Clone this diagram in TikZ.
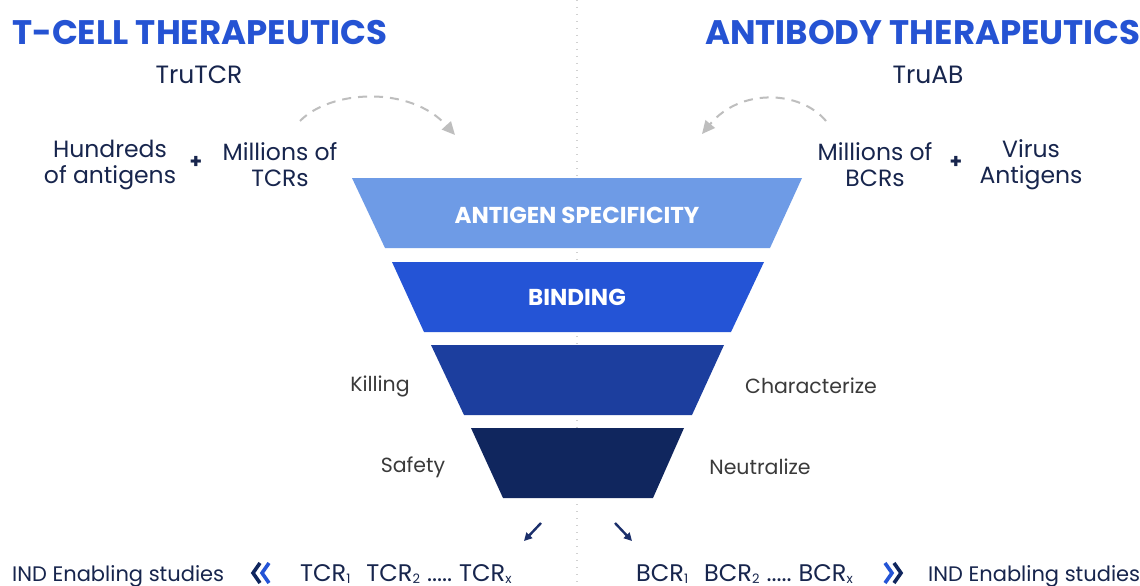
\documentclass[tikz,border=0pt]{standalone}
\usepackage{fontspec}
\setmainfont{Poppins}
\usetikzlibrary{arrows.meta}
\definecolor{titleblue}{HTML}{2553D3}
\definecolor{navytext}{HTML}{17254D}
\definecolor{greytext}{HTML}{3A3A3A}
\definecolor{layerA}{HTML}{6E9BE6}
\definecolor{layerB}{HTML}{2454D6}
\definecolor{layerC}{HTML}{1C3E9E}
\definecolor{layerD}{HTML}{10265E}
\definecolor{arcgrey}{HTML}{BEBEBE}
\definecolor{arrownavy}{HTML}{1B2F6B}
\newcommand{\fs}[1]{\fontsize{#1}{#1}\selectfont}
\newcommand{\sbs}[1]{\raisebox{-2.5pt}{\fs{13}#1}}
\newcommand{\seq}[1]{#1\sbs{1}\hspace{16pt}#1\sbs{2}\hspace{7pt}.....\hspace{7pt}#1\sbs{x}}
\tikzset{
  title/.style={font=\fs{34}\bfseries, text=titleblue, inner sep=0pt},
  brand/.style={font=\fs{25}, text=navytext, inner sep=0pt},
  source/.style={font=\fontsize{23.5}{26}\selectfont, text=navytext, align=center, inner sep=0pt},
  plus/.style={font=\fs{20}\bfseries, text=navytext, inner sep=0pt},
  layertext/.style={font=\fs{23}\bfseries, text=white, inner sep=0pt},
  sidelabel/.style={font=\fs{20.5}, text=greytext, inner sep=0pt},
  bottomtext/.style={font=\fs{21}, text=navytext, inner sep=0pt, anchor=base west},
  seqtext/.style={font=\fs{24}, text=navytext, inner sep=0pt, anchor=base west},
  dasharc/.style={arcgrey, line width=2pt, dash pattern=on 9pt off 7pt,
    -{Triangle[length=13pt,width=12pt]}},
  smallarrow/.style={arrownavy, line width=2.4pt, -{Triangle[length=8pt,width=8pt]}},
  chev/.style={line width=3.6pt, miter limit=10}
}
\begin{document}
\begin{tikzpicture}[x=1pt,y=-1pt]
\useasboundingbox[fill=white] (0,0) rectangle (1140,586);

% faint dotted centre divider
\draw[black!18, line width=1.3pt, dash pattern=on 1.3pt off 5.7pt] (577,0) -- (577,586);

% headings
\node[title, anchor=west] (tcell) at (12,33) {T-CELL THERAPEUTICS};
\node[title, anchor=east] (antibody) at (1141,33) {ANTIBODY THERAPEUTICS};
\node[brand] (trutcr) at (199,75) {TruTCR};
\node[brand] (truab) at (928,75) {TruAB};

% inputs
\node[source] (hundreds) at (110,165) {Hundreds\\of antigens};
\node[plus] (plusL) at (196,162) {+};
\node[source] (milltcr) at (280,165) {Millions of\\TCRs};
\node[source] (millbcr) at (875,165) {Millions of\\BCRs};
\node[plus] (plusR) at (956,162) {+};
\node[source] (virus) at (1031,165) {Virus\\Antigens};

% funnel
\fill[layerA] (352,178) -- (802,178) -- (770,248) -- (385,248) -- cycle;
\fill[layerB] (392,262) -- (764,262) -- (731,332) -- (424,332) -- cycle;
\fill[layerC] (431,345) -- (724,345) -- (692,415) -- (464,415) -- cycle;
\fill[layerD] (471,428) -- (684,428) -- (653,498) -- (503,498) -- cycle;
\node[layertext] (spec) at (577,215) {ANTIGEN SPECIFICITY};
\node[layertext] (binding) at (577,297) {BINDING};
\coordinate (funtopL) at (455,135);
\coordinate (funtopR) at (702,134);

% dashed feed arrows
\coordinate (arcL) at (300,121);
\coordinate (arcR) at (826,121);
\draw[dasharc] (arcL) .. controls (330,90) and (410,85) .. (funtopL);
\draw[dasharc] (arcR) .. controls (800,90) and (740,88) .. (funtopR);

% side labels
\node[sidelabel] (killing) at (380,386) {Killing};
\node[sidelabel] (charac) at (811,386) {Characterize};
\node[sidelabel] (safety) at (413,467) {Safety};
\node[sidelabel] (neutral) at (760,467) {Neutralize};

% outputs
\coordinate (outLs) at (541,523);
\coordinate (outLe) at (524,541);
\coordinate (outRs) at (615,523);
\coordinate (outRe) at (632,541);
\draw[smallarrow] (outLs) -- (outLe);
\draw[smallarrow] (outRs) -- (outRe);

\node[bottomtext] (indL) at (12,581) {IND Enabling studies};
\node[seqtext] (tcrs) at (300,581) {\seq{TCR}};
\node[seqtext] (bcrs) at (636,581) {\seq{BCR}};
\node[bottomtext] (indR) at (928,581) {IND Enabling studies};

% double chevrons
\draw[chev, layerD] (260,563) -- (253,573) -- (260,583);
\draw[chev, layerB] (269,563) -- (262,573) -- (269,583);
\draw[chev, layerB] (885,563) -- (892,573) -- (885,583);
\draw[chev, layerD] (894,563) -- (901,573) -- (894,583);
\end{tikzpicture}
\end{document}
